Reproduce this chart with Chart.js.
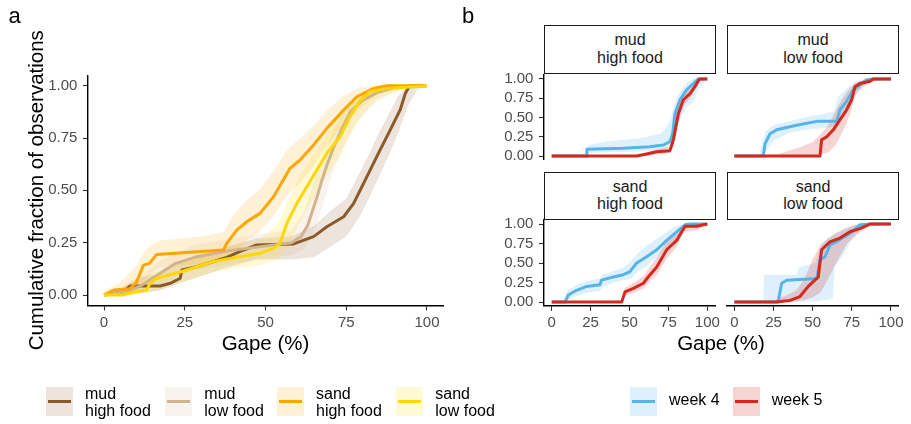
<!DOCTYPE html>
<html>
<head>
<meta charset="utf-8">
<script src="https://cdn.jsdelivr.net/npm/chart.js@4.4.1/dist/chart.umd.min.js"></script>
<style>
	body { margin: 0; width: 911px; height: 424px; background: #fff; position: relative; overflow: hidden; font-family: "Liberation Sans", Arial, sans-serif; }
	canvas { position: absolute; left: 0; top: 0; }
	.t { position: absolute; white-space: nowrap; line-height: 1; color: #000; }
	.strip { position: absolute; box-sizing: border-box; border: 1.5px solid #1a1a1a; background: #fff; text-align: center; font-size: 16px; line-height: 17.4px; color: #1a1a1a; padding-top: 5.2px; }
	.key { position: absolute; width: 27px; height: 29px; }
	.key i { position: absolute; left: 2px; right: 2px; top: 13px; height: 3px; }
	.lab { position: absolute; font-size: 16px; line-height: 16.7px; color: #000; white-space: nowrap; }
</style>
</head>
<body>
<canvas id="panelA" width="911" height="424"></canvas>
<canvas id="mudHigh" width="911" height="424"></canvas>
<canvas id="mudLow" width="911" height="424"></canvas>
<canvas id="sandHigh" width="911" height="424"></canvas>
<canvas id="sandLow" width="911" height="424"></canvas>

<div class="t" style="left:8.5px;top:4.7px;font-size:22px;">a</div>
<div class="t" style="left:462px;top:4.7px;font-size:22px;">b</div>
<div class="t" style="left:-163.8px;top:180px;width:400px;height:20.5px;font-size:20.5px;text-align:center;transform:rotate(-90deg);">Cumulative fraction of observations</div>
<div class="t" style="left:165.5px;top:333.2px;width:200px;font-size:20.5px;text-align:center;">Gape (%)</div>
<div class="t" style="left:621px;top:332.7px;width:200px;font-size:20.5px;text-align:center;">Gape (%)</div>

<div class="strip" style="left:544.3px;top:25.3px;width:171.4px;height:48.7px;">mud<br>high food</div>
<div class="strip" style="left:726.7px;top:25.3px;width:172.6px;height:48.7px;">mud<br>low food</div>
<div class="strip" style="left:544.3px;top:171.7px;width:171.4px;height:48.4px;">sand<br>high food</div>
<div class="strip" style="left:726.7px;top:171.7px;width:172.6px;height:48.4px;">sand<br>low food</div>

<div id="legendA"></div>
<div id="legendB"></div>

<script>
const gapeTicks = [0, 25, 50, 75, 100];
const fracTicks = [0, 0.25, 0.5, 0.75, 1];

const groupNames = ["mud\nhigh food", "mud\nlow food", "sand\nhigh food", "sand\nlow food"];
const groupColors = ["#8b5a2b", "#d2b48c", "#ffa500", "#ffd700"];
const weekNames = ["week 4", "week 5"];
const weekColors = ["#56b4e9", "#d32a1f"];

// panel a: ECDF [gape, fraction] and band [gape, lower, upper]
const mudHighLine = [[0,0],[6,0.016],[8,0.043],[17.4,0.043],[20.5,0.056],[23.6,0.08],[24.1,0.12],[28.7,0.135],[33.9,0.16],[38,0.18],[42,0.207],[47.3,0.239],[58.7,0.244],[64.9,0.279],[69,0.326],[74.2,0.374],[77.3,0.438],[79.3,0.5],[82.4,0.597],[85.5,0.693],[88.6,0.788],[91.7,0.884],[93.3,0.963],[94.6,1],[100,1]];
const mudHighBand = [[0,0,0],[6,0,0.04],[10,0.01,0.08],[17,0.02,0.1],[24,0.06,0.16],[30,0.09,0.19],[38,0.13,0.23],[47,0.17,0.27],[58,0.17,0.28],[65,0.18,0.33],[70,0.23,0.4],[75,0.28,0.46],[79,0.37,0.58],[82,0.46,0.67],[85,0.56,0.77],[88,0.66,0.86],[91,0.77,0.95],[94,0.9,1],[97,0.98,1],[100,1,1]];
const mudLowLine = [[0,0],[8,0.02],[12,0.05],[17,0.1],[22,0.15],[28,0.18],[38,0.21],[48,0.23],[58,0.25],[61,0.28],[63,0.33],[64.5,0.4],[66,0.47],[67.5,0.55],[69,0.62],[71,0.7],[73.5,0.79],[76.5,0.88],[80,0.93],[85,0.97],[90,0.99],[95,1],[100,1]];
const mudLowBand = [[0,0,0],[8,0,0.05],[17,0.05,0.16],[28,0.12,0.24],[48,0.17,0.29],[58,0.19,0.31],[62,0.22,0.4],[65,0.3,0.55],[68,0.44,0.66],[71,0.6,0.79],[74,0.7,0.87],[78,0.82,0.94],[84,0.92,0.99],[90,0.97,1],[100,1,1]];
const sandHighLine = [[0,0],[3,0.024],[8,0.03],[10,0.06],[12.2,0.143],[14,0.15],[16.3,0.194],[37,0.215],[38,0.247],[41.1,0.31],[44.2,0.35],[48.3,0.39],[52.5,0.47],[57.6,0.605],[60.7,0.645],[64.9,0.717],[69,0.796],[74.2,0.884],[78.3,0.947],[83.5,0.987],[87.6,1],[100,1]];
const sandHighBand = [[0,0,0.02],[5,0,0.06],[10,0.03,0.14],[13,0.08,0.22],[17,0.13,0.26],[30,0.15,0.28],[37,0.16,0.3],[40,0.19,0.38],[44,0.26,0.45],[48,0.3,0.5],[52,0.37,0.58],[57,0.48,0.7],[61,0.54,0.75],[65,0.62,0.81],[69,0.71,0.88],[74,0.81,0.95],[79,0.89,0.99],[84,0.95,1],[90,0.99,1],[100,1,1]];
const sandLowLine = [[0,0],[6,0],[8,0.01],[13.2,0.024],[14.3,0.056],[16.3,0.08],[23.6,0.11],[33.9,0.16],[42.1,0.183],[48.3,0.2],[52.5,0.223],[54.5,0.247],[56.6,0.342],[59.7,0.438],[62.8,0.517],[65.9,0.597],[69,0.677],[73.1,0.756],[76.2,0.852],[79.3,0.93],[82.4,0.971],[87.6,0.987],[95.9,0.995],[100,1]];
const sandLowBand = [[0,0,0],[8,0,0.04],[14,0.01,0.1],[24,0.06,0.16],[34,0.11,0.21],[42,0.13,0.24],[48,0.14,0.26],[54,0.17,0.34],[57,0.24,0.45],[60,0.33,0.55],[63,0.41,0.63],[66,0.49,0.7],[69,0.57,0.77],[73,0.66,0.85],[76,0.76,0.92],[80,0.86,0.97],[85,0.94,1],[92,0.98,1],[100,1,1]];

// panel b: week 4 / week 5 per treatment
const mudHighWk4 = [[0,0],[22.5,0],[22.6,0.087],[46,0.1],[63,0.12],[71.7,0.143],[76,0.186],[77.7,0.29],[79.2,0.55],[82.4,0.73],[86.7,0.86],[91,0.94],[94.2,1],[100,1]];
const mudHighWk5 = [[0,0],[54.6,0],[61,0.026],[67.5,0.056],[76,0.07],[78.2,0.21],[81.4,0.55],[84.6,0.73],[88.9,0.81],[92,0.9],[94.9,1],[100,1]];
const mudHighWk4Band = [[0,0,0],[22,0,0.01],[23,0.04,0.14],[35,0.05,0.19],[57,0.06,0.23],[70,0.08,0.29],[73,0.1,0.36],[76,0.13,0.45],[78,0.2,0.6],[80,0.36,0.75],[83,0.5,0.85],[87,0.64,0.95],[91,0.7,1],[95,0.9,1],[100,1,1]];
const mudHighWk5Band = [[0,0,0],[54,0,0.01],[61,0,0.05],[68,0.02,0.09],[76,0.04,0.12],[78,0.12,0.32],[81,0.42,0.66],[85,0.66,0.8],[89,0.75,0.88],[92,0.85,0.95],[95,0.96,1],[100,1,1]];

const mudLowWk4 = [[0,0],[18.5,0],[19.6,0.16],[22.8,0.29],[27,0.34],[39.8,0.4],[52.6,0.45],[65.3,0.45],[67.4,0.6],[71.7,0.71],[76,0.86],[80.2,0.92],[84.5,0.99],[88.7,1],[100,1]];
const mudLowWk5 = [[0,0],[54.7,0],[55.7,0.21],[59,0.25],[63.2,0.34],[67.4,0.47],[71.7,0.6],[74.9,0.73],[77,0.9],[80.2,0.94],[86.6,0.97],[88.7,1],[100,1]];
const mudLowWk4Band = [[0,0,0],[16,0,0.02],[18,0.02,0.2],[20,0.06,0.32],[25,0.2,0.4],[35,0.3,0.45],[45,0.34,0.5],[55,0.36,0.54],[64,0.38,0.58],[66,0.45,0.76],[70,0.58,0.84],[74,0.72,0.92],[78,0.82,0.97],[83,0.92,1],[88,0.98,1],[100,1,1]];
const mudLowWk5Band = [[0,0,0],[27,0,0.02],[40,0,0.1],[50,0,0.18],[55,0.02,0.28],[60,0.05,0.4],[65,0.15,0.6],[70,0.35,0.78],[74,0.55,0.88],[77,0.78,0.95],[82,0.9,0.98],[88,0.96,1],[100,1,1]];

const sandHighWk4 = [[0,0],[8.6,0],[10.7,0.09],[16,0.15],[22.5,0.2],[31,0.22],[32,0.28],[39.6,0.32],[46,0.35],[50.3,0.39],[54.6,0.5],[61,0.58],[67.5,0.67],[73.9,0.79],[80.3,0.9],[85.7,0.99],[88.9,1],[100,1]];
const sandHighWk5 = [[0,0],[45,0],[47.1,0.13],[52.5,0.175],[58.9,0.24],[63.2,0.35],[67.5,0.45],[73.9,0.67],[80.3,0.79],[85.7,0.97],[93,0.97],[100,1]];
const sandHighWk4Band = [[0,0,0],[8,0,0.02],[10,0.02,0.15],[16,0.08,0.22],[23,0.12,0.27],[31,0.14,0.3],[33,0.2,0.35],[40,0.25,0.4],[46,0.28,0.44],[51,0.3,0.52],[55,0.38,0.62],[61,0.46,0.72],[67,0.56,0.8],[74,0.7,0.9],[80,0.82,0.97],[86,0.94,1],[100,1,1]];
const sandHighWk5Band = [[0,0,0],[45,0,0.02],[47,0.08,0.18],[53,0.12,0.25],[59,0.17,0.33],[63,0.26,0.45],[68,0.36,0.58],[74,0.56,0.78],[80,0.7,0.88],[85,0.9,1],[93,0.92,1],[100,1,1]];

const sandLowWk4 = [[0,0],[28,0],[30.2,0.24],[33.4,0.28],[52.6,0.3],[54.7,0.54],[57.9,0.58],[61,0.73],[67.4,0.8],[73.8,0.88],[80.2,0.99],[86.6,1],[100,1]];
const sandLowWk5 = [[0,0],[27,0],[35.5,0.02],[41.9,0.07],[47.2,0.2],[50.4,0.26],[53.6,0.32],[55.7,0.67],[61,0.77],[67.4,0.82],[73.8,0.9],[80.2,0.94],[86.6,1],[100,1]];
const sandLowWk4Band = [[0,0,0],[18.5,0,0.01],[19,0,0.35],[40,0,0.35],[41,0,0.45],[52,0.01,0.5],[55,0.02,0.75],[60,0.03,0.82],[63,0.05,0.86],[64,0.45,0.88],[70,0.62,0.94],[75,0.8,0.98],[80,0.92,1],[88,1,1],[100,1,1]];
const sandLowWk5Band = [[0,0,0],[25,0,0.02],[35,0,0.1],[40,0.01,0.16],[45,0.03,0.3],[50,0.06,0.55],[55,0.12,0.72],[60,0.3,0.82],[65,0.5,0.88],[72,0.75,0.95],[78,0.86,0.99],[85,0.96,1],[100,1,1]];

const W = 911, H = 424;
const FONT = '"Liberation Sans", Arial, sans-serif';

function rgba(hex, a) {
	const n = parseInt(hex.slice(1), 16);
	return "rgba(" + (n >> 16) + "," + ((n >> 8) & 255) + "," + (n & 255) + "," + a + ")";
}

function lineSet(points, color) {
	return {
		data: points.map(p => ({ x: p[0], y: p[1] })),
		borderColor: color,
		borderWidth: 3,
		pointRadius: 0,
		fill: false
	};
}

/**
 * Lower edge, then upper edge filled back down to it
 */
function bandSets(band, color, alpha) {
	return [
		{ data: band.map(b => ({ x: b[0], y: b[1] })), borderWidth: 0, borderColor: "transparent", pointRadius: 0, fill: false },
		{ data: band.map(b => ({ x: b[0], y: b[2] })), borderWidth: 0, borderColor: "transparent", pointRadius: 0, fill: "-1", backgroundColor: rgba(color, alpha) }
	];
}

/**
 * One panel on a full-page canvas, plot box given in page pixels
 */
function drawPanel(id, box, showX, showY, bands, lines, alpha) {
	var sets = [];
	bands.forEach(b => { sets.push(...bandSets(b[0], b[1], alpha)); });
	lines.forEach(l => { sets.push(lineSet(l[0], l[1])); });
	// later entries end up on top
	sets.forEach((s, i) => { s.order = sets.length - i; });

	const yW = showY ? 50 : 0;
	const xH = showX ? 30 : 0;
	const axisGrid = { drawOnChartArea: false, drawTicks: true, tickLength: 5, tickColor: "#333", tickWidth: 1.1 };
	const axisBorder = { display: true, color: "#000", width: 1.4 };
	const tickFont = { family: FONT, size: 15 };

	new Chart(document.getElementById(id), {
		type: "line",
		data: { datasets: sets },
		options: {
			responsive: false,
			animation: false,
			events: [],
			layout: {
				padding: {
					left: box.left - yW,
					top: box.top,
					right: W - box.right,
					bottom: H - box.bottom - xH
				}
			},
			plugins: { legend: { display: false }, tooltip: { enabled: false } },
			elements: { line: { tension: 0, borderJoinStyle: "round" } },
			scales: {
				x: {
					type: "linear",
					min: -5,
					max: 105,
					display: showX,
					afterBuildTicks: s => { s.ticks = gapeTicks.map(v => ({ value: v })); },
					afterFit: s => { s.height = xH; },
					grid: axisGrid,
					border: axisBorder,
					ticks: { color: "#4d4d4d", font: tickFont, padding: 3, maxRotation: 0, autoSkip: false, callback: v => String(v) }
				},
				y: {
					type: "linear",
					min: -0.05,
					max: 1.05,
					display: showY,
					afterBuildTicks: s => { s.ticks = fracTicks.map(v => ({ value: v })); },
					afterFit: s => { s.width = yW; },
					grid: axisGrid,
					border: axisBorder,
					ticks: { color: "#4d4d4d", font: tickFont, padding: 5.5, autoSkip: false, callback: v => v.toFixed(2) }
				}
			}
		}
	});
}

drawPanel("panelA", { left: 87.9, top: 75.2, right: 443.1, bottom: 305.5 }, true, true,
	[[mudHighBand, groupColors[0]], [mudLowBand, groupColors[1]], [sandHighBand, groupColors[2]], [sandLowBand, groupColors[3]]],
	[[mudHighLine, groupColors[0]], [mudLowLine, groupColors[1]], [sandHighLine, groupColors[2]], [sandLowLine, groupColors[3]]],
	0.16);

const facets = [
	["mudHigh", { left: 543.9, top: 75.1, right: 715.1, bottom: 159.9 }, false, true, mudHighWk4, mudHighWk5, mudHighWk4Band, mudHighWk5Band],
	["mudLow", { left: 726.5, top: 75.1, right: 898.8, bottom: 159.9 }, false, false, mudLowWk4, mudLowWk5, mudLowWk4Band, mudLowWk5Band],
	["sandHigh", { left: 543.9, top: 220.1, right: 715.1, bottom: 305.9 }, true, true, sandHighWk4, sandHighWk5, sandHighWk4Band, sandHighWk5Band],
	["sandLow", { left: 726.5, top: 220.1, right: 898.8, bottom: 305.9 }, true, false, sandLowWk4, sandLowWk5, sandLowWk4Band, sandLowWk5Band]
];
facets.forEach(f => {
	drawPanel(f[0], f[1], f[2], f[3],
		[[f[6], weekColors[0]], [f[7], weekColors[1]]],
		[[f[4], weekColors[0]], [f[5], weekColors[1]]],
		0.2);
});

// legends
function addKey(parent, left, top, color, alpha, text, textLeft, textTop) {
	var html = '<div class="key" style="left:' + left + 'px;top:' + top + 'px;background:' + rgba(color, alpha) + ';"><i style="background:' + color + ';"></i></div>';
	html += '<div class="lab" style="left:' + textLeft + 'px;top:' + textTop + 'px;">' + text.replace("\n", "<br>") + '</div>';
	parent.insertAdjacentHTML("beforeend", html);
}

const legA = document.getElementById("legendA");
const keyAX = [45.7, 165, 276.7, 396];
groupNames.forEach((n, i) => addKey(legA, keyAX[i], 387, groupColors[i], 0.16, n, keyAX[i] + 39.3, 386.1));

const legB = document.getElementById("legendB");
const keyBX = [630, 732.7];
weekNames.forEach((n, i) => addKey(legB, keyBX[i], 387, weekColors[i], 0.2, n, keyBX[i] + 39, 392.1));
</script>
</body>
</html>
